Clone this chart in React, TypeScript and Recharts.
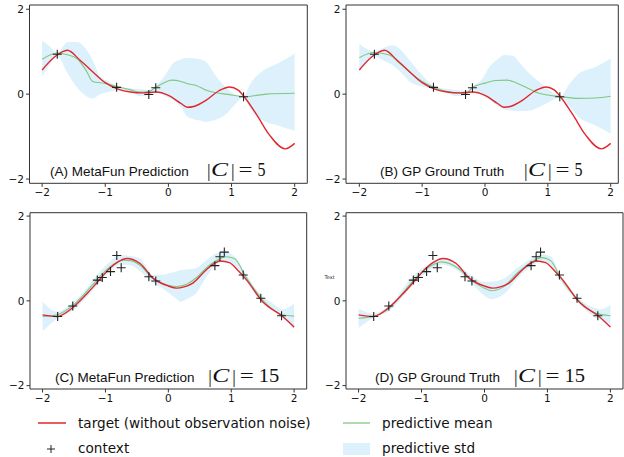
import React from 'react';
import { ComposedChart, Line, Area, Scatter, XAxis, YAxis, ReferenceArea } from 'recharts';

// ---------- data ----------
const xTicks = [-2, -1, 0, 1, 2];
const yTicks = [-2, 0, 2];

// top row (|C| = 5)
const topTargetX = [-2, -1.8, -1.6, -1.4, -1.2, -1.0, -0.8, -0.6, -0.4, -0.2, 0, 0.2, 0.3, 0.4, 0.6, 0.8, 0.97, 1.1, 1.2, 1.4, 1.6, 1.85, 2];
const topTargetY = [0.57, 0.88, 1.035, 0.8, 0.53, 0.27, 0.12, 0.05, 0.03, 0.05, -0.03, -0.22, -0.31, -0.29, -0.14, 0.08, 0.17, 0.1, -0.06, -0.49, -0.96, -1.29, -1.16];

const topContextX = [-1.76, -0.82, -0.31, -0.2, 1.19];
const topContextY = [0.94, 0.16, -0.01, 0.15, -0.06];

const aMeanX = [-2, -1.76, -1.6, -1.45, -1.3, -1.2, -1.0, -0.82, -0.6, -0.45, -0.3, -0.2, -0.05, 0.05, 0.2, 0.29, 0.45, 0.6, 0.8, 0.92, 1.2, 1.55, 2];
const aMeanY = [0.82, 0.97, 0.93, 0.84, 0.55, 0.3, 0.25, 0.18, 0.1, 0.05, 0.07, 0.16, 0.28, 0.33, 0.3, 0.25, 0.2, 0.09, 0.02, 0.0, -0.06, 0.0, 0.02];

const aBandX = [-2, -1.9, -1.76, -1.6, -1.45, -1.3, -1.2, -1.08, -0.95, -0.82, -0.6, -0.45, -0.3, -0.2, -0.05, 0.07, 0.2, 0.3, 0.5, 0.6, 0.76, 0.92, 1.05, 1.19, 1.3, 1.47, 1.73, 2];
const aBandHi = [1.25, 1.15, 0.98, 1.22, 1.23, 1.05, 0.8, 0.42, 0.3, 0.2, 0.14, 0.12, 0.1, 0.2, 0.45, 0.72, 0.82, 0.85, 0.82, 0.75, 0.41, 0.15, 0.0, -0.05, 0.25, 0.52, 0.72, 0.96];
const aBandLo = [0.41, 0.65, 0.9, 0.5, 0.16, -0.05, -0.1, 0.0, 0.05, 0.09, 0.05, -0.05, -0.02, 0.06, -0.05, -0.14, -0.3, -0.53, -0.62, -0.65, -0.6, -0.46, -0.25, -0.08, -0.35, -0.6, -0.74, -0.86];

const bMeanX = [-2, -1.77, -1.52, -1.35, -1.2, -1.0, -0.82, -0.52, -0.3, -0.2, 0, 0.17, 0.35, 0.44, 0.6, 0.86, 1.21, 1.5, 1.75, 2];
const bMeanY = [0.86, 0.98, 0.92, 0.72, 0.52, 0.3, 0.16, 0.04, 0.02, 0.16, 0.26, 0.32, 0.33, 0.3, 0.2, 0.02, -0.06, -0.1, -0.09, -0.05];

const bBandX = [-2, -1.9, -1.77, -1.6, -1.47, -1.3, -1.2, -1.0, -0.82, -0.6, -0.45, -0.3, -0.2, -0.05, 0.07, 0.2, 0.31, 0.45, 0.54, 0.7, 0.86, 1.0, 1.2, 1.35, 1.5, 1.76, 2];
const bBandHi = [1.19, 1.08, 1.0, 1.1, 1.15, 0.98, 0.8, 0.45, 0.2, 0.12, 0.1, 0.08, 0.18, 0.35, 0.64, 0.82, 0.92, 0.9, 0.76, 0.5, 0.3, 0.12, -0.04, 0.25, 0.49, 0.64, 0.84];
const bBandLo = [0.55, 0.75, 0.9, 0.78, 0.68, 0.45, 0.3, 0.18, 0.12, 0.02, -0.05, -0.02, 0.1, -0.02, -0.14, -0.28, -0.36, -0.39, -0.4, -0.39, -0.3, -0.2, -0.08, -0.3, -0.55, -0.74, -0.93];

// bottom row (|C| = 15)
const botTargetX = [-2, -1.77, -1.53, -1.3, -1.14, -0.93, -0.8, -0.66, -0.45, -0.24, 0, 0.13, 0.25, 0.39, 0.6, 0.75, 0.82, 0.97, 1.1, 1.24, 1.5, 1.82, 2];
const botTargetY = [-0.33, -0.37, -0.17, 0.16, 0.42, 0.77, 0.92, 1.0, 0.88, 0.53, 0.35, 0.3, 0.33, 0.42, 0.73, 0.9, 0.94, 0.9, 0.73, 0.5, -0.02, -0.37, -0.62];

const botContextX = [-1.76, -1.52, -1.13, -1.05, -0.92, -0.82, -0.75, -0.31, -0.2, 0.74, 0.82, 0.89, 1.19, 1.47, 1.8];
const botContextY = [-0.37, -0.12, 0.49, 0.55, 0.69, 1.07, 0.78, 0.57, 0.47, 0.83, 1.04, 1.15, 0.61, 0.06, -0.35];

const cMeanX = [-2, -1.77, -1.53, -1.3, -1.14, -0.93, -0.72, -0.6, -0.45, -0.24, 0, 0.13, 0.3, 0.45, 0.6, 0.8, 0.92, 1.05, 1.24, 1.5, 1.82, 2];
const cMeanY = [-0.37, -0.33, -0.12, 0.22, 0.49, 0.8, 0.96, 0.95, 0.84, 0.52, 0.37, 0.34, 0.4, 0.55, 0.77, 0.98, 1.04, 1.0, 0.55, 0.02, -0.33, -0.36];

const cBandX = [-2, -1.77, -1.53, -1.3, -1.14, -0.93, -0.77, -0.6, -0.45, -0.24, -0.05, 0.01, 0.13, 0.19, 0.3, 0.44, 0.6, 0.76, 0.9, 1.05, 1.24, 1.5, 1.65, 1.82, 2];
const cBandHi = [-0.02, -0.25, -0.05, 0.3, 0.6, 0.92, 1.08, 1.06, 1.0, 0.61, 0.62, 0.65, 0.69, 0.72, 0.74, 0.77, 0.95, 1.12, 1.16, 1.05, 0.61, 0.1, -0.05, -0.2, -0.06];
const cBandLo = [-0.72, -0.42, -0.24, 0.08, 0.35, 0.7, 0.86, 0.84, 0.7, 0.43, 0.25, 0.18, 0.05, -0.02, 0.05, 0.18, 0.55, 0.86, 0.92, 0.85, 0.45, -0.04, -0.2, -0.42, -0.6];

const dMeanX = [-2, -1.77, -1.5, -1.3, -1.15, -0.9, -0.68, -0.42, -0.21, 0, 0.11, 0.3, 0.54, 0.75, 0.91, 1.05, 1.2, 1.5, 1.76, 2];
const dMeanY = [-0.41, -0.37, -0.16, 0.18, 0.45, 0.78, 0.92, 0.77, 0.49, 0.3, 0.24, 0.33, 0.68, 0.92, 1.02, 0.95, 0.57, 0.0, -0.29, -0.35];

const dBandX = [-2, -1.77, -1.5, -1.15, -0.9, -0.68, -0.42, -0.21, 0, 0.11, 0.3, 0.54, 0.75, 0.91, 1.05, 1.2, 1.5, 1.76, 1.85, 2];
const dBandHi = [-0.18, -0.3, -0.1, 0.56, 0.86, 1.0, 0.85, 0.6, 0.45, 0.45, 0.52, 0.8, 1.0, 1.1, 1.05, 0.63, 0.05, -0.17, -0.2, -0.1];
const dBandLo = [-0.64, -0.4, -0.22, 0.35, 0.7, 0.86, 0.7, 0.42, 0.12, 0.04, 0.15, 0.55, 0.82, 0.92, 0.85, 0.48, -0.04, -0.4, -0.45, -0.54];

const legendLabels = ['target (without observation noise)', 'context', 'predictive mean', 'predictive std'];

// ---------- styling ----------
const RED = '#e3262e';
const GREEN = '#80c780';
const BLUE = '#dcf1fb';
const AXIS = '#333';

const pts = (xs: number[], ys: number[]) => xs.map((x, i) => ({ x, y: ys[i] }));
const band = (xs: number[], lo: number[], hi: number[]) => xs.map((x, i) => ({ x, lo: lo[i], hi: hi[i] }));
const fmt = (v: number) => (v < 0 ? `\u2212${Math.abs(v)}` : `${v}`);

const Plus = (props: any) => {
  const { cx, cy } = props;
  if (cx == null || cy == null) return null;
  return <path d={`M${cx - 4.5},${cy}h9M${cx},${cy - 4.5}v9`} stroke="#222" strokeWidth={1.1} fill="none" />;
};

type PanelProps = {
  left: number; top: number; width: number; height: number;
  margin: { top: number; right: number; bottom: number; left: number };
  yAxisWidth: number; xAxisHeight: number;
  xDomain: [number, number]; yDomain: [number, number];
  target: { x: number; y: number }[];
  mean: { x: number; y: number }[];
  bandData: { x: number; lo: number; hi: number }[];
  context: { x: number; y: number }[];
};

const tickStyle = { fontSize: 10.5, fill: '#111', fontFamily: 'DejaVu Sans' };

function Panel(p: PanelProps) {
  return (
    <div style={{ position: 'absolute', left: p.left, top: p.top, width: p.width, height: p.height }}>
      <ComposedChart width={p.width} height={p.height} margin={p.margin}>
        <XAxis
          type="number" dataKey="x" domain={p.xDomain} ticks={xTicks} allowDataOverflow
          height={p.xAxisHeight} tickSize={3.5} tickMargin={2} axisLine={false}
          tickLine={{ stroke: AXIS }} tick={tickStyle} tickFormatter={fmt} interval={0}
        />
        <YAxis
          type="number" domain={p.yDomain} ticks={yTicks} allowDataOverflow
          width={p.yAxisWidth} tickSize={3.5} tickMargin={2} axisLine={false}
          tickLine={{ stroke: AXIS }} tick={tickStyle} tickFormatter={fmt} interval={0}
        />
        <Area
          data={p.bandData} dataKey={(d: any) => [d.lo, d.hi]} type="monotone"
          stroke="none" fill={BLUE} fillOpacity={1} isAnimationActive={false} dot={false} activeDot={false}
        />
        <Line data={p.mean} dataKey="y" type="monotone" stroke={GREEN} strokeWidth={1.1} dot={false} activeDot={false} isAnimationActive={false} />
        <Line data={p.target} dataKey="y" type="monotone" stroke={RED} strokeWidth={1.4} dot={false} activeDot={false} isAnimationActive={false} />
        <Scatter data={p.context} dataKey="y" shape={Plus} isAnimationActive={false} />
        <ReferenceArea x1={p.xDomain[0]} x2={p.xDomain[1]} y1={p.yDomain[0]} y2={p.yDomain[1]} fill="none" stroke={AXIS} strokeWidth={1} ifOverflow="visible" />
      </ComposedChart>
    </div>
  );
}

function Title({ x, mathX, y, label, n }: { x: number; mathX: number; y: number; label: string; n: string }) {
  const serif = 'Liberation Serif, DejaVu Serif, serif';
  const m = { fontFamily: serif, fontSize: 18, fill: '#111' };
  return (
    <g>
      <text x={x} y={y} fontFamily="Liberation Sans, Arial, sans-serif" fontSize={13.5} fill="#111">{label}</text>
      <text x={mathX} y={y + 1} {...m}>|</text>
      <text x={mathX + 4} y={y} {...m} fontStyle="italic" textLength={17} lengthAdjust="spacingAndGlyphs">C</text>
      <text x={mathX + 24} y={y + 1} {...m}>|</text>
      <text x={mathX + 31.5} y={y} {...m} textLength={14} lengthAdjust="spacingAndGlyphs">=</text>
      <text x={mathX + 50.5} y={y} {...m} textLength={n.length > 1 ? 20.5 : 8} lengthAdjust="spacingAndGlyphs">{n}</text>
    </g>
  );
}

export default function App() {
  const topTarget = pts(topTargetX, topTargetY);
  const botTarget = pts(botTargetX, botTargetY);
  const topCtx = pts(topContextX, topContextY);
  const botCtx = pts(botContextX, botContextY);
  const legendFont = { fontFamily: 'DejaVu Sans', fontSize: 13.6, fill: '#111' };

  return (
    <div style={{ position: 'absolute', left: 0, top: 0, width: 624, height: 457, background: '#fff', overflow: 'hidden' }}>
      <Panel left={0} top={0} width={312} height={200}
        margin={{ top: 5, right: 4.7, bottom: 0, left: 0 }} yAxisWidth={29.5} xAxisHeight={16.7}
        xDomain={[-2.2, 2.2]} yDomain={[-2.1, 2.1]}
        target={topTarget} mean={pts(aMeanX, aMeanY)} bandData={band(aBandX, aBandLo, aBandHi)} context={topCtx} />
      <Panel left={312} top={0} width={312} height={200}
        margin={{ top: 5, right: 5.7, bottom: 0, left: 0 }} yAxisWidth={34} xAxisHeight={16.7}
        xDomain={[-2.212, 2.121]} yDomain={[-2.1, 2.1]}
        target={topTarget} mean={pts(bMeanX, bMeanY)} bandData={band(bBandX, bBandLo, bBandHi)} context={topCtx} />
      <Panel left={0} top={200} width={312} height={210}
        margin={{ top: 12.7, right: 5.3, bottom: 0, left: 0 }} yAxisWidth={30} xAxisHeight={21}
        xDomain={[-2.2, 2.2]} yDomain={[-2.08, 2.08]}
        target={botTarget} mean={pts(cMeanX, cMeanY)} bandData={band(cBandX, cBandLo, cBandHi)} context={botCtx} />
      <Panel left={312} top={200} width={312} height={210}
        margin={{ top: 12.7, right: 1, bottom: 0, left: 0 }} yAxisWidth={34} xAxisHeight={21}
        xDomain={[-2.2, 2.2]} yDomain={[-2.08, 2.08]}
        target={botTarget} mean={pts(dMeanX, dMeanY)} bandData={band(dBandX, dBandLo, dBandHi)} context={botCtx} />

      <svg width={624} height={457} style={{ position: 'absolute', left: 0, top: 0, pointerEvents: 'none' }}>
        <Title x={50} mathX={207} y={176} label="(A) MetaFun Prediction" n="5" />
        <Title x={380} mathX={524} y={176} label="(B) GP Ground Truth" n="5" />
        <Title x={55} mathX={208.3} y={382} label="(C) MetaFun Prediction" n="15" />
        <Title x={375} mathX={514} y={382} label="(D) GP Ground Truth" n="15" />
        <text x={324.5} y={279} fontFamily="DejaVu Sans" fontSize={5} fill="#222">Text</text>

        {/* legend */}
        <line x1={38} x2={66} y1={423} y2={423} stroke={RED} strokeWidth={1.5} />
        <text x={78} y={428} {...legendFont}>{legendLabels[0]}</text>
        <path d="M47,449h8M51,445v8" stroke="#222" strokeWidth={1} />
        <text x={78} y={453} {...legendFont}>{legendLabels[1]}</text>
        <line x1={343} x2={370} y1={423} y2={423} stroke={GREEN} strokeWidth={1.3} />
        <text x={382} y={428} {...legendFont}>{legendLabels[2]}</text>
        <rect x={343} y={443} width={27} height={12} fill={BLUE} />
        <text x={382} y={453} {...legendFont}>{legendLabels[3]}</text>
      </svg>
    </div>
  );
}
